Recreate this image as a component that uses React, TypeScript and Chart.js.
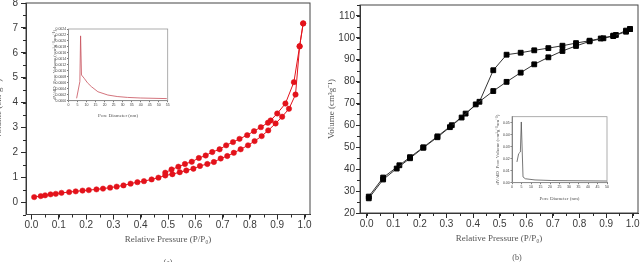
import React, { useEffect, useRef } from 'react';
import { Chart, registerables } from 'chart.js';
Chart.register(...registerables);

// ---------- DATA ----------
// (a) N2 isotherm, adsorption branch
const aAdsX = [0.01, 0.034, 0.05, 0.07, 0.089, 0.11, 0.138, 0.162, 0.187, 0.21, 0.238, 0.262, 0.288, 0.312, 0.337, 0.363, 0.388, 0.412, 0.44, 0.465, 0.49, 0.516, 0.543, 0.567, 0.593, 0.617, 0.644, 0.668, 0.693, 0.717, 0.741, 0.766, 0.793, 0.817, 0.843, 0.867, 0.894, 0.918, 0.943, 0.967, 0.982, 0.995];
const aAdsY = [0.2, 0.24, 0.27, 0.31, 0.33, 0.37, 0.4, 0.43, 0.46, 0.48, 0.51, 0.54, 0.58, 0.62, 0.67, 0.74, 0.8, 0.84, 0.91, 0.98, 1.07, 1.12, 1.2, 1.27, 1.34, 1.45, 1.53, 1.61, 1.75, 1.85, 1.98, 2.12, 2.28, 2.45, 2.65, 2.88, 3.16, 3.43, 3.75, 4.32, 6.26, 7.18];
// (a) desorption branch
const aDesX = [0.995, 0.982, 0.961, 0.93, 0.9, 0.876, 0.866, 0.84, 0.815, 0.79, 0.762, 0.738, 0.713, 0.689, 0.662, 0.638, 0.613, 0.587, 0.562, 0.538, 0.513, 0.49];
const aDesY = [7.18, 6.26, 4.82, 3.96, 3.56, 3.28, 3.19, 3.01, 2.85, 2.69, 2.54, 2.41, 2.28, 2.12, 2.01, 1.87, 1.77, 1.62, 1.53, 1.42, 1.31, 1.18];
// (a) inset pore size distribution
const aPoreD = [4.5, 6.3, 6.7, 7.2, 8.7, 10.5, 12.7, 16.3, 21.8, 27, 32.7, 40, 54.5];
const aPoreV = [0.00008, 0.00064, 0.00217, 0.00086, 0.00075, 0.0006, 0.00047, 0.0003, 0.00019, 0.00014, 0.00011, 0.00009, 0.00007];

// (b) adsorption branch
const bAdsX = [0.008, 0.062, 0.113, 0.163, 0.213, 0.266, 0.313, 0.357, 0.41, 0.476, 0.526, 0.579, 0.63, 0.683, 0.736, 0.787, 0.838, 0.89, 0.927, 0.975, 0.99];
const bAdsY = [26.7, 35.3, 40.3, 45.0, 49.8, 54.6, 59.2, 63.6, 69.6, 75.7, 79.9, 84.1, 87.9, 91.1, 94.0, 96.3, 98.4, 99.8, 100.8, 102.8, 104.0];
// (b) desorption branch
const bDesX = [0.99, 0.975, 0.937, 0.927, 0.88, 0.838, 0.787, 0.736, 0.683, 0.63, 0.579, 0.526, 0.476, 0.424, 0.372, 0.32, 0.266, 0.213, 0.163, 0.123, 0.062, 0.008];
const bDesY = [104.0, 103.3, 101.3, 101.0, 99.7, 98.7, 97.6, 96.4, 95.3, 94.3, 93.2, 92.3, 85.2, 70.8, 65.4, 60.1, 55.0, 50.0, 45.5, 41.8, 36.2, 27.5];
// (b) inset pore size distribution
const bPoreD = [2.6, 3.5, 4.4, 4.9, 5.8, 7.0, 12.1, 21, 50];
const bPoreV = [0.0173, 0.0242, 0.0256, 0.0506, 0.0048, 0.0033, 0.0023, 0.0018, 0.0014];

// axis texts
const xTitleMain = 'Relative Pressure (P/P₀)';
const yTitleMain = 'Volume (cm³g⁻¹)';
const xTitleInset = 'Pore Diameter (nm)';
const yTitleInset = 'dV/dD  Pore Volume (cm³g⁻¹nm⁻¹)';

// ---------- STYLE ----------
const SANS = "'Liberation Sans Narrow', 'Liberation Sans', Arial, sans-serif";
const SERIF = "'Liberation Serif', 'Times New Roman', serif";
const RED = '#e3121b';
const INK = '#2a2a2a';

const pts = (xs: number[], ys: number[]) => xs.map((x, i) => ({ x, y: ys[i] }));

type Box = { x: number; y: number; w: number; h: number };
type Area = { l: number; t: number; r: number; b: number };
type AxisSpec = {
  min: number; max: number; step: number; minor?: number; dec: number;
  title: string; titleAt: number; tickSize: number; titleSize: number;
  tickLen: number; pad: number; minorLen?: number; color: string;
};

function makeConfig(box: Box, area: Area, xs: AxisSpec, ys: AxisSpec, datasets: any[], frameColor: string, frameWidth: number) {
  const yWidth = area.l - box.x;
  const xHeight = box.y + box.h - area.b;
  const xLh = xs.titleSize * 1.2;
  const yLh = ys.titleSize * 1.2;
  const xTitlePad = box.y + box.h - xLh / 2 - xs.titleAt;
  const yTitlePad = ys.titleAt - box.x - yLh / 2;

  const plugin = {
    id: 'frameMinor',
    afterDraw(chart: any) {
      const { ctx, chartArea } = chart;
      ctx.save();
      ctx.strokeStyle = frameColor;
      ctx.lineWidth = frameWidth;
      ctx.strokeRect(chartArea.left, chartArea.top, chartArea.right - chartArea.left, chartArea.bottom - chartArea.top);
      const list: [string, AxisSpec][] = [['x', xs], ['y', ys]];
      for (const [id, spec] of list) {
        if (!spec.minor) continue;
        const s = chart.scales[id];
        ctx.strokeStyle = spec.color;
        ctx.lineWidth = 1;
        const i0 = Math.ceil(spec.min / spec.minor - 1e-6);
        const i1 = Math.floor(spec.max / spec.minor + 1e-6);
        for (let i = i0; i <= i1; i++) {
          const p = Math.round(s.getPixelForValue(i * spec.minor)) + 0.5;
          ctx.beginPath();
          if (id === 'x') { ctx.moveTo(p, chartArea.bottom); ctx.lineTo(p, chartArea.bottom + (spec.minorLen || 2)); }
          else { ctx.moveTo(chartArea.left, p); ctx.lineTo(chartArea.left - (spec.minorLen || 2), p); }
          ctx.stroke();
        }
      }
      ctx.restore();
    },
  };

  const axis = (spec: AxisSpec, horizontal: boolean) => ({
    type: 'linear',
    position: horizontal ? 'bottom' : 'left',
    min: spec.min,
    max: spec.max,
    afterFit: (s: any) => {
      if (horizontal) s.height = xHeight; else s.width = yWidth;
      s.paddingLeft = 0; s.paddingRight = 0; s.paddingTop = 0; s.paddingBottom = 0;
    },
    border: { display: true, color: spec.color, width: 1 },
    grid: { display: true, drawOnChartArea: false, drawTicks: true, tickLength: spec.tickLen, color: spec.color },
    ticks: {
      stepSize: spec.step,
      includeBounds: false,
      autoSkip: false,
      maxRotation: 0,
      minRotation: 0,
      padding: spec.pad,
      color: '#3a3a3a',
      font: { family: SANS, size: spec.tickSize },
      callback: (v: any) => Number(v).toFixed(spec.dec),
    },
    title: {
      display: true,
      text: spec.title,
      color: '#555',
      font: { family: SERIF, size: spec.titleSize },
      padding: horizontal ? { top: 0, bottom: xTitlePad } : { top: yTitlePad, bottom: 0 },
    },
  });

  return {
    type: 'scatter',
    data: { datasets },
    options: {
      responsive: true,
      maintainAspectRatio: false,
      animation: false,
      layout: { autoPadding: false, padding: { left: 0, top: area.t - box.y, right: box.x + box.w - area.r, bottom: 0 } },
      plugins: { legend: { display: false }, tooltip: { enabled: false } },
      scales: { x: axis(xs, true), y: axis(ys, false) },
    },
    plugins: [plugin],
  };
}

function ChartBox({ box, build }: { box: Box; build: () => any }) {
  const ref = useRef<HTMLCanvasElement | null>(null);
  useEffect(() => {
    const chart = new Chart(ref.current as HTMLCanvasElement, build());
    return () => chart.destroy();
  }, []);
  return (
    <div style={{ position: 'absolute', left: box.x, top: box.y, width: box.w, height: box.h }}>
      <canvas ref={ref} />
    </div>
  );
}

// ---------- LAYOUT ----------
const boxA: Box = { x: -10, y: 0, w: 330, h: 262 };
const areaA: Area = { l: 26, t: 3, r: 310, b: 214.5 };
const boxB: Box = { x: 320, y: 0, w: 322, h: 262 };
const areaB: Area = { l: 360, t: 5, r: 638, b: 213 };
const boxAi: Box = { x: 40, y: 24, w: 134, h: 100 };
const areaAi: Area = { l: 68.5, t: 29, r: 167.7, b: 100.7 };
const boxBi: Box = { x: 488, y: 110, w: 124, h: 98 };
const areaBi: Area = { l: 512, t: 116.7, r: 607, b: 182.7 };

const mainAxis = (o: Partial<AxisSpec>): AxisSpec => ({
  min: 0, max: 1, step: 0.1, dec: 1, title: '', titleAt: 0, tickSize: 10, titleSize: 9,
  tickLen: 5, pad: 2, minorLen: 3, color: INK, ...o,
} as AxisSpec);
const insetAxis = (o: Partial<AxisSpec>): AxisSpec => ({
  min: 0, max: 1, step: 0.1, dec: 0, title: '', titleAt: 0, tickSize: 3.5, titleSize: 5,
  tickLen: 1.5, pad: 0.8, color: '#777', ...o,
} as AxisSpec);

const buildA = () => makeConfig(
  boxA, areaA,
  mainAxis({ min: -0.02, max: 1.02, step: 0.1, minor: 0.05, dec: 1, title: xTitleMain, titleAt: 240, pad: 0 }),
  mainAxis({ min: -0.5, max: 8, step: 1, minor: 0.5, dec: 0, title: yTitleMain, titleAt: -1, pad: 3 }),
  [
    { data: pts(aAdsX, aAdsY), showLine: true, borderColor: RED, borderWidth: 1, backgroundColor: RED, pointRadius: 2.7, pointBorderWidth: 0.5, pointBorderColor: RED, tension: 0 },
    { data: pts(aDesX, aDesY), showLine: true, borderColor: RED, borderWidth: 1, backgroundColor: RED, pointRadius: 2.7, pointBorderWidth: 0.5, pointBorderColor: RED, tension: 0 },
  ],
  '#444', 1,
);

const buildB = () => makeConfig(
  boxB, areaB,
  mainAxis({ min: -0.025, max: 1.02, step: 0.1, minor: 0.05, dec: 1, title: xTitleMain, titleAt: 238.5, pad: 0 }),
  mainAxis({ min: 20, max: 115, step: 10, minor: 5, dec: 0, title: yTitleMain, titleAt: 331.7, pad: 1, tickLen: 4 }),
  [
    { data: pts(bAdsX, bAdsY), showLine: true, borderColor: '#333', borderWidth: 1, backgroundColor: '#000', pointStyle: 'rect', pointRadius: 3.4, pointBorderWidth: 1, pointBorderColor: '#000', tension: 0 },
    { data: pts(bDesX, bDesY), showLine: true, borderColor: '#333', borderWidth: 1, backgroundColor: '#000', pointStyle: 'rect', pointRadius: 3.4, pointBorderWidth: 1, pointBorderColor: '#000', tension: 0 },
  ],
  '#444', 1,
);

const buildAi = () => makeConfig(
  boxAi, areaAi,
  insetAxis({ min: 0, max: 55, step: 5, dec: 0, title: xTitleInset, titleAt: 116 }),
  insetAxis({ min: 0, max: 0.0024, step: 0.0002, dec: 4, title: yTitleInset, titleAt: 55 }),
  [
    { data: pts(aPoreD, aPoreV), showLine: true, borderColor: '#c8505c', borderWidth: 0.8, pointRadius: 0, tension: 0 },
  ],
  '#999', 0.8,
);

const buildBi = () => makeConfig(
  boxBi, areaBi,
  insetAxis({ min: 0, max: 50, step: 5, dec: 0, title: xTitleInset, titleAt: 199 }),
  insetAxis({ min: 0, max: 0.055, step: 0.01, dec: 2, title: yTitleInset, titleAt: 498 }),
  [
    { data: pts(bPoreD, bPoreV), showLine: true, borderColor: '#555', borderWidth: 0.8, pointRadius: 0, tension: 0 },
  ],
  '#999', 0.8,
);

const capStyle = (x: number, y: number): React.CSSProperties => ({
  position: 'absolute', left: x, top: y, transform: 'translate(-50%, -50%)',
  fontFamily: SERIF, fontSize: 8, color: '#555', whiteSpace: 'nowrap',
});

export default function App() {
  return (
    <div style={{ position: 'fixed', left: 0, top: 0, width: 642, height: 262, overflow: 'hidden', background: '#fff' }}>
      <ChartBox box={boxA} build={buildA} />
      <ChartBox box={boxB} build={buildB} />
      <ChartBox box={boxAi} build={buildAi} />
      <ChartBox box={boxBi} build={buildBi} />
      <div style={capStyle(168, 262)}>(a)</div>
      <div style={capStyle(517, 256.5)}>(b)</div>
    </div>
  );
}
